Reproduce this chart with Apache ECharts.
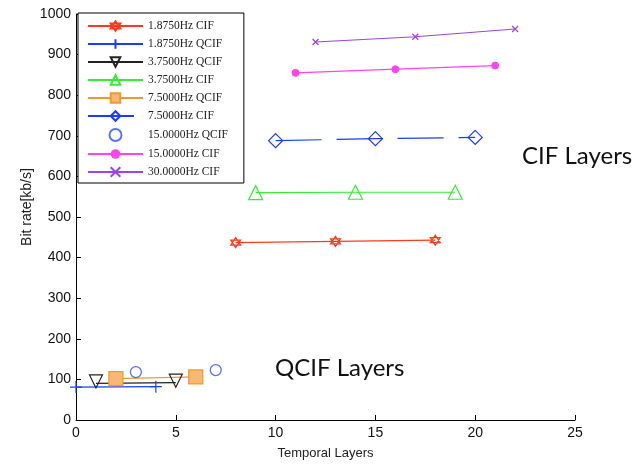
<!DOCTYPE html>
<html>
<head>
<meta charset="utf-8">
<script src="https://cdn.jsdelivr.net/npm/echarts@6/dist/echarts.min.js"></script>
<style>
html,body{margin:0;padding:0;background:#fff;}
#main{width:636px;height:466px;}
</style>
</head>
<body>
<div id="main"></div>
<script>
// series names (legend order)
var names = ['1.8750Hz CIF', '1.8750Hz QCIF', '3.7500Hz QCIF', '3.7500Hz CIF', '7.5000Hz QCIF',
    '7.5000Hz CIF', '15.0000Hz QCIF', '15.0000Hz CIF', '30.0000Hz CIF'];

// [temporal layer, bit rate]
var cif1875 = [[8, 437], [13, 440], [18, 443]];
var qcif1875 = [[0, 81], [4, 82]];
var qcif375 = [[1, 90], [5, 92]];
var cif375 = [[9, 560], [14, 561], [19, 561]];
var qcif75 = [[2, 102], [6, 106]];
var cif75 = [[10, 688], [15, 693], [20, 696]];
var qcif15 = [[3, 118], [7, 123]];
var cif15 = [[11, 855], [16, 864], [21, 873]];
var cif30 = [[12, 931], [17, 944], [22, 963]];

var hexagram = 'path://M0,-10L8.66,5L-8.66,5Z M0,10L8.66,-5L-8.66,-5Z';
var plus = 'path://M0,-10L0,10 M-10,0L10,0';
var cross = 'path://M-10,-10L10,10 M-10,10L10,-10';

var hollow = 'rgba(0,0,0,0)';

function lineSeries(name, data, color, symbol, size, extra) {
    var s = {
        name: name,
        type: 'line',
        data: data,
        symbol: symbol,
        symbolSize: size,
        showAllSymbol: true,
        lineStyle: { color: color, width: 1.2 },
        itemStyle: { color: hollow, borderColor: color, borderWidth: 1.2 },
        emphasis: { disabled: true },
        z: 3
    };
    for (var k in extra) s[k] = extra[k];
    return s;
}

// legend entries, hollow markers stay hollow
var legendData = [];
for (var i = 0; i < names.length; i++) {
    var it = { name: names[i] };
    if (i != 4 && i != 7) it.itemStyle = { color: hollow };
    legendData.push(it);
}

var myChart = echarts.init(document.getElementById('main'));

var option = {
    animation: false,
    textStyle: { fontFamily: 'Liberation Sans' },
    grid: { left: 76, right: 61, top: 14, bottom: 46 },
    legend: {
        orient: 'vertical',
        left: 78,
        top: 13,
        padding: [7, 16, 5, 9],
        itemGap: 6,
        itemWidth: 55,
        itemHeight: 12,
        borderColor: '#000',
        borderWidth: 1,
        backgroundColor: '#fff',
        textStyle: { fontFamily: 'Liberation Serif', fontSize: 11.5, color: '#222', lineHeight: 12 },
        data: legendData
    },
    xAxis: {
        type: 'value',
        min: 0, max: 25, interval: 5,
        name: 'Temporal Layers',
        nameLocation: 'middle',
        nameGap: 27,
        nameTextStyle: { fontSize: 13, color: '#222' },
        axisLine: { lineStyle: { color: '#000' } },
        axisTick: { inside: true, length: 5, lineStyle: { color: '#000' } },
        axisLabel: { fontSize: 14, color: '#111', margin: 6 },
        splitLine: { show: false }
    },
    yAxis: {
        type: 'value',
        min: 0, max: 1000, interval: 100,
        name: 'Bit rate[kb/s]',
        nameLocation: 'middle',
        nameGap: 42,
        nameMoveOverlap: false,
        nameTextStyle: { fontSize: 14, color: '#222', padding: [0, 0, 0, 20] },
        axisLine: { show: true, lineStyle: { color: '#000' } },
        axisTick: { show: true, inside: true, length: 5, lineStyle: { color: '#000' } },
        axisLabel: { fontSize: 14, color: '#111', margin: 5, formatter: function (v) { return '' + v; } },
        splitLine: { show: false }
    },
    graphic: [
        { type: 'text', left: 522, top: 144, style: { text: 'CIF Layers', fontSize: 24, fontFamily: 'Lato', fill: '#111' } },
        { type: 'text', left: 275, top: 356, style: { text: 'QCIF Layers', fontSize: 24, fontFamily: 'Lato', fill: '#111' } }
    ],
    series: [
        lineSeries(names[0], cif1875, '#ff3a1a', hexagram, 10),
        lineSeries(names[1], qcif1875, '#1a3cff', plus, 12),
        lineSeries(names[2], qcif375, '#222', 'triangle', 13, { symbolRotate: 180, symbolOffset: [0, -2] }),
        lineSeries(names[3], cif375, '#33ee33', 'triangle', 14),
        lineSeries(names[4], qcif75, '#ee9a30', 'rect', 14, {
            itemStyle: { color: '#f9b870', borderColor: '#ee9a30', borderWidth: 1.2 }
        }),
        lineSeries(names[5], cif75, '#1a3cff', 'diamond', 14, {
            lineStyle: { color: '#1a3cff', width: 1.2, type: [46, 15] }
        }),
        {
            name: names[6], type: 'scatter', data: qcif15,
            symbol: 'circle', symbolSize: 11,
            itemStyle: { color: hollow, borderColor: '#2a50ff', borderWidth: 1.3 },
            emphasis: { disabled: true }, z: 3
        },
        lineSeries(names[7], cif15, '#ff44ee', 'circle', 7, {
            itemStyle: { color: '#ff44ee', borderColor: '#ff44ee' }
        }),
        lineSeries(names[8], cif30, '#9944ee', cross, 6)
    ]
};

myChart.setOption(option);
window.onresize = myChart.resize;
</script>
</body>
</html>
